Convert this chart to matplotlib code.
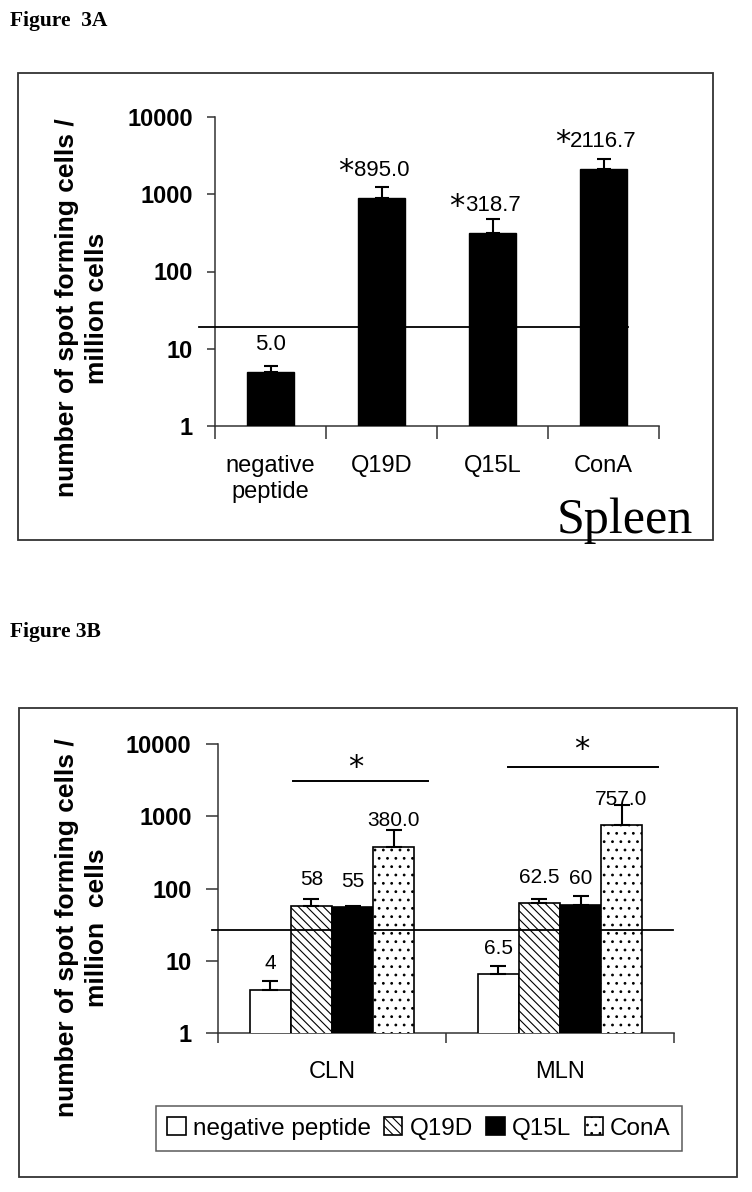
import matplotlib
matplotlib.use("Agg")
import matplotlib.pyplot as plt
from matplotlib.patches import Rectangle
from matplotlib.ticker import NullLocator
import numpy as np

# ---------------- data ----------------
yticks = [1, 10, 100, 1000, 10000]
ytick_labels = ["1", "10", "100", "1000", "10000"]

# Figure 3A (Spleen)
top_categories = ["negative\npeptide", "Q19D", "Q15L", "ConA"]
top_values = [5.0, 895.0, 318.7, 2116.7]
top_err = [1.0, 360.0, 160.0, 750.0]
top_labels = ["5.0", "895.0", "318.7", "2116.7"]
top_significant = [False, True, True, True]
top_threshold = 19.4

# Figure 3B (CLN / MLN)
bottom_groups = ["CLN", "MLN"]
series_names = ["negative peptide", "Q19D", "Q15L", "ConA"]
neg_values = [4.0, 6.5]
q19d_values = [58.0, 62.5]
q15l_values = [55.0, 60.0]
cona_values = [380.0, 757.0]
neg_err = [1.2, 2.0]
q19d_err = [13.0, 9.0]
q15l_err = [3.0, 20.0]
cona_err = [260.0, 680.0]
neg_labels = ["4", "6.5"]
q19d_labels = ["58", "62.5"]
q15l_labels = ["55", "60"]
cona_labels = ["380.0", "757.0"]
bottom_threshold = 27.0
# significance bracket heights per group (CLN, MLN)
sig_line_levels = [3120, 4750]
sig_star_levels = [4780, 8300]

# ---------------- style ----------------
plt.rcParams.update({
    "font.family": "Liberation Sans",
    "hatch.linewidth": 0.8,
    "axes.linewidth": 1.1,
})

W, H = 752, 1192
fig = plt.figure(figsize=(W / 100, H / 100), dpi=100)


def fx(px):
    return px / W


def fy(py):
    return 1 - py / H


def frame(x0, y0, x1, y1):
    fig.add_artist(Rectangle((fx(x0), fy(y1)), fx(x1) - fx(x0), fy(y0) - fy(y1),
                             transform=fig.transFigure, fill=False,
                             edgecolor="#333333", lw=1.3))


def style_axes(ax, cats, ytick_len, xtick_len, label_pad):
    n = len(cats)
    ax.set_yscale("log")
    ax.set_ylim(1, 10000)
    ax.set_xlim(-0.5, n - 0.5)
    ax.set_yticks(yticks)
    ax.set_yticklabels(ytick_labels, fontweight="bold", fontsize=17)
    ax.yaxis.set_minor_locator(NullLocator())
    ax.tick_params(axis="y", which="major", length=ytick_len, width=1.1,
                   pad=10, color="#333333")
    ax.set_xticks(np.arange(n + 1) - 0.5)
    ax.set_xticklabels([])
    ax.set_xticks(np.arange(n), minor=True)
    ax.set_xticklabels(cats, minor=True, fontsize=17)
    ax.tick_params(axis="x", which="major", length=xtick_len, width=1.1,
                   color="#333333")
    ax.tick_params(axis="x", which="minor", length=0, pad=label_pad)
    for s in ["top", "right"]:
        ax.spines[s].set_visible(False)
    for s in ["left", "bottom"]:
        ax.spines[s].set_color("#333333")


# ---------------- Figure 3A ----------------
fig.text(fx(10), fy(21), "Figure  3A", family="Liberation Serif",
         fontweight="bold", fontsize=15.5, ha="left", va="center")
frame(18, 73, 713, 540)

ax1 = fig.add_axes([fx(215), fy(426), fx(659) - fx(215), fy(117) - fy(426)])
ax1.set_yscale("log")
x1 = np.arange(len(top_categories))
ax1.bar(x1, top_values, width=0.42, color="black", edgecolor="black",
        yerr=[np.zeros(len(top_err)), top_err], capsize=5,
        error_kw=dict(elinewidth=1.5, capthick=1.5, ecolor="black"), zorder=3)
style_axes(ax1, top_categories, ytick_len=6, xtick_len=9, label_pad=21)

for i, (v, lab, sig) in enumerate(zip(top_values, top_labels, top_significant)):
    t = ax1.annotate(lab, xy=(i, v), xytext=(0, 19.8), textcoords="offset points",
                     ha="center", va="center", fontsize=16)
    if sig:
        ax1.annotate("*", xy=(0, 1), xycoords=t, xytext=(0, 2),
                     textcoords="offset points", ha="right", va="top",
                     fontsize=22, family="DejaVu Sans")

ax1.plot([-0.64, 3.22], [top_threshold, top_threshold], color="black", lw=1.3,
         clip_on=False, zorder=5)

fig.text(fx(82), fy(308), "number of spot forming cells /\nmillion cells",
         rotation=90, ha="center", va="center", multialignment="center",
         fontsize=19, fontweight="bold", linespacing=1.3)
fig.text(fx(557), fy(533), "Spleen", family="Liberation Serif", fontsize=36,
         ha="left", va="baseline")

# ---------------- Figure 3B ----------------
fig.text(fx(10), fy(632), "Figure 3B", family="Liberation Serif",
         fontweight="bold", fontsize=15.5, ha="left", va="center")
frame(19, 708, 737, 1177)

ax2 = fig.add_axes([fx(218), fy(1033), fx(674) - fx(218), fy(744) - fy(1033)])
ax2.set_yscale("log")
x2 = np.arange(len(bottom_groups))
bw = 0.18
series_vals = [neg_values, q19d_values, q15l_values, cona_values]
series_err = [neg_err, q19d_err, q15l_err, cona_err]
series_lab = [neg_labels, q19d_labels, q15l_labels, cona_labels]
fills = ["white", "white", "black", "white"]
hatches = [None, "\\\\\\\\", None, ".."]
handles = []
for k in range(4):
    xs = x2 + (k - 1.5) * bw
    b = ax2.bar(xs, series_vals[k], width=bw, color=fills[k], edgecolor="black",
                linewidth=1.2, hatch=hatches[k],
                yerr=[np.zeros(len(series_err[k])), series_err[k]], capsize=5.5,
                error_kw=dict(elinewidth=1.5, capthick=1.5, ecolor="black"),
                zorder=3)
    handles.append(b)
    for xi, v, lab in zip(xs, series_vals[k], series_lab[k]):
        ax2.annotate(lab, xy=(xi, v), xytext=(0, 18.7), textcoords="offset points",
                     ha="center", va="center", fontsize=15, zorder=6)

style_axes(ax2, bottom_groups, ytick_len=9, xtick_len=7, label_pad=20.5)

ax2.plot([-0.526, 1.496], [bottom_threshold, bottom_threshold], color="black",
         lw=1.3, clip_on=False, zorder=5)

# significance brackets over Q19D..ConA of each group
line_spans = [(-0.173, 0.423), (-0.228, 0.428)]
star_offsets = [0.105, 0.094]
for g in range(len(bottom_groups)):
    a, b_ = line_spans[g]
    ax2.plot([g + a, g + b_], [sig_line_levels[g]] * 2, color="black", lw=1.4,
             clip_on=False)
    ax2.text(g + star_offsets[g], sig_star_levels[g], "*", ha="center",
             va="center", fontsize=22, family="DejaVu Sans", clip_on=False)

fig.text(fx(82), fy(928), "number of spot forming cells /\nmillion  cells",
         rotation=90, ha="center", va="center", multialignment="center",
         fontsize=19, fontweight="bold", linespacing=1.3)

leg = fig.legend(handles, series_names, loc="center",
                 bbox_to_anchor=(fx(419), fy(1128.5)), ncol=4, fontsize=17.5,
                 frameon=True, fancybox=False, edgecolor="#333333",
                 handlelength=0.75, handleheight=0.75, handletextpad=0.3,
                 columnspacing=0.55, borderpad=0.45)
leg.get_frame().set_linewidth(1.1)

fig.savefig("out.png", dpi=100, facecolor="white")
